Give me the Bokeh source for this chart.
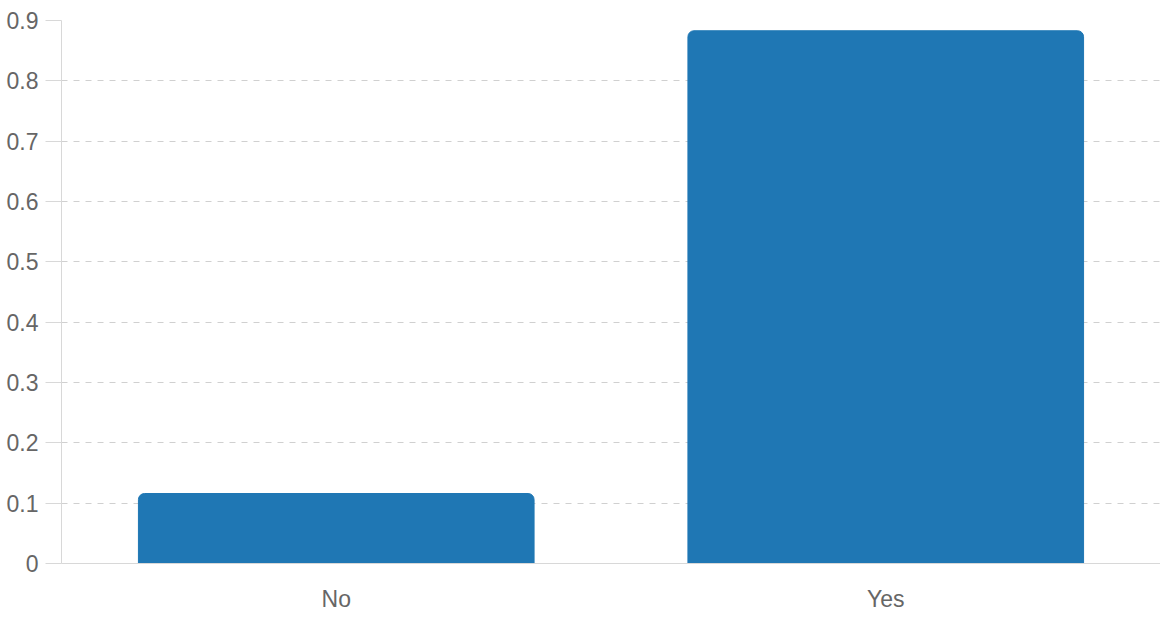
from bokeh.plotting import figure
from bokeh.models import ColumnDataSource, FactorRange, Range1d, FixedTicker
from bokeh.embed import file_html
from bokeh.resources import INLINE

categories = ["No", "Yes"]
values = [0.116, 0.883]
y_ticks = [0, 0.1, 0.2, 0.3, 0.4, 0.5, 0.6, 0.7, 0.8, 0.9]

source = ColumnDataSource(data=dict(cat=categories, val=values))

p = figure(x_range=FactorRange(factors=categories, range_padding=0),
           y_range=Range1d(0, 0.9),
           width=1160, height=614, output_backend="svg", toolbar_location=None,
           min_border_left=61, min_border_right=0, min_border_top=20, min_border_bottom=0)
p.outline_line_color = None

p.vbar(x="cat", top="val", width=0.72, source=source, color="#1f77b4",
       border_radius=(6, 6, 0, 0))

font = "Liberation Sans"
p.yaxis.ticker = FixedTicker(ticks=y_ticks)
p.yaxis.major_label_overrides = {0: "0"}
p.yaxis.axis_line_color = "#d8d8d8"
p.yaxis.major_tick_line_color = "#d8d8d8"
p.yaxis.major_tick_out = 16
p.yaxis.major_tick_in = 0
p.yaxis.minor_tick_line_color = None
p.yaxis.major_label_standoff = 7

p.xaxis.axis_line_color = "#d8d8d8"
p.xaxis.major_tick_line_color = None
p.xaxis.major_tick_out = 0
p.xaxis.major_tick_in = 0
p.xaxis.minor_tick_line_color = None
p.xaxis.major_label_standoff = 22

for ax in (p.xaxis, p.yaxis):
    ax.major_label_text_font = font
    ax.major_label_text_font_size = "23px"
    ax.major_label_text_color = "#666666"

p.xgrid.grid_line_color = None
p.ygrid.grid_line_color = "#d0d0d0"
p.ygrid.grid_line_dash = "6 6"
p.ygrid.grid_line_width = 1

open("out.html", "w").write(file_html(p, INLINE))
